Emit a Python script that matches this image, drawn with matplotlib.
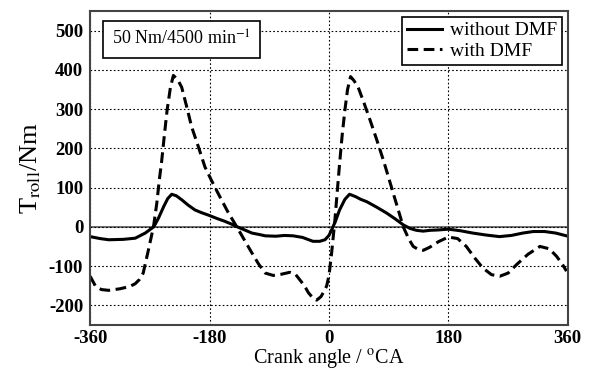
import numpy as np
import matplotlib
matplotlib.use('Agg')
import matplotlib.pyplot as plt

plt.rcParams['font.family'] = ['Liberation Serif', 'DejaVu Serif']
plt.rcParams['mathtext.fontset'] = 'stix'
plt.rcParams['axes.unicode_minus'] = False

# curva sem DMF (linha cheia)
ang_sem = [-360, -345, -332, -310, -292, -277, -264, -257, -249, -243, -237, -230,
           -222, -212, -202, -192, -182, -170, -157, -147, -137, -127, -116, -104,
           -96, -80, -67, -54, -40, -24, -14, -6, 0, 4, 10, 16, 24, 31, 40, 48,
           57, 72, 87, 100, 112, 122, 132, 142, 152, 165, 180, 198, 217, 237,
           257, 275, 292, 308, 325, 342, 358]
torque_sem = [-25, -30, -33, -32, -29, -16, 0, 22, 52, 72, 83, 79,
              69, 55, 43, 36, 30, 22, 14, 7, -1, -8, -16, -20,
              -23, -24, -22, -23, -27, -37, -37, -33, -22, -8, 15, 43, 70, 83, 77, 70,
              64, 50, 35, 20, 5, -4, -9, -11, -9, -8, -6, -10, -16, -21,
              -25, -22, -16, -12, -12, -16, -23]

# curva com DMF (tracejada)
ang_com = [-360, -352, -343, -332, -315, -300, -292, -286, -280, -272, -264.5, -259.5,
           -256, -252, -248, -244, -239, -234.5, -228, -222, -215, -207, -197, -187,
           -177, -167, -153, -139, -127, -116, -106, -96, -84, -72, -59, -50, -44,
           -37, -31, -25, -18.5, -12, -7, -3.5, 0, 4, 9, 13, 16.5, 20, 24, 28,
           32.6, 38, 44, 53, 62, 72, 82, 90, 97, 105, 112, 120, 127, 135, 142, 152,
           165, 180, 194, 207, 220, 232, 245, 257.5, 270, 283, 300, 318, 332, 343,
           352, 358]
torque_com = [-126, -151, -160, -162, -158, -152, -145, -135, -118, -58, 0, 60,
              115, 170, 235, 297, 355, 386, 375, 356, 310, 255, 205, 153,
              118, 85, 40, 0, -35, -67, -95, -118, -124, -121, -116, -122, -135,
              -150, -168, -180, -187, -178, -163, -151, -125, -67, 18, 100, 170, 235, 297, 350,
              383, 372, 356, 315, 272, 222, 170, 125, 85, 40, 0, -30, -50, -58, -60, -52,
              -38, -26, -30, -50, -80, -105, -122, -126, -118, -96, -70, -50, -56, -75,
              -96, -113]

fig = plt.figure(figsize=(5.89, 3.70), dpi=100)
ax = fig.add_axes([0.153, 0.122, 0.811, 0.848])

ax.plot(ang_sem, torque_sem, color='black', lw=2.2, solid_joinstyle='round',
        label='without DMF')
ax.plot(ang_com, torque_com, color='black', lw=2.2, ls=(0, (3.5, 1.8)),
        dash_joinstyle='round', label='with DMF')
ax.axhline(0, color='#555555', lw=1.2, zorder=1)

ax.set_xlim(-360, 360)
ax.set_ylim(-250, 550)
ax.set_xticks([-360, -180, 0, 180, 360])
ax.set_yticks(np.arange(-200, 501, 100))
ax.grid(True, color='black', ls=(0, (1.5, 2)), lw=0.8)
ax.tick_params(direction='in', length=0, labelsize=13.5, pad=4)
ax.tick_params(axis='y', pad=5)
for lab in ax.get_xticklabels() + ax.get_yticklabels():
    lab.set_fontweight('bold')
for s in ax.spines.values():
    s.set_color('#444444')
    s.set_linewidth(1.5)

ax.set_xlabel('Crank angle / $^{\\mathrm{o}}$CA', fontsize=14.5, labelpad=0)
ax.set_ylabel('T$_{\\mathrm{roll}}$/Nm', fontsize=19, labelpad=4)

ax.text(0.045, 0.94, '50 Nm/4500 min$^{\\mathrm{-1}}$', transform=ax.transAxes,
        fontsize=13, va='top', ha='left',
        bbox=dict(boxstyle='square,pad=0.5', fc='white', ec='black', lw=1.2))

leg = ax.legend(loc='upper right', fontsize=14, fancybox=False, framealpha=1,
                edgecolor='black', borderaxespad=0.3, handlelength=1.8,
                handletextpad=0.4, borderpad=0.25, labelspacing=0.15)
leg.get_frame().set_linewidth(1.2)

fig.savefig('out.png', dpi=100)
